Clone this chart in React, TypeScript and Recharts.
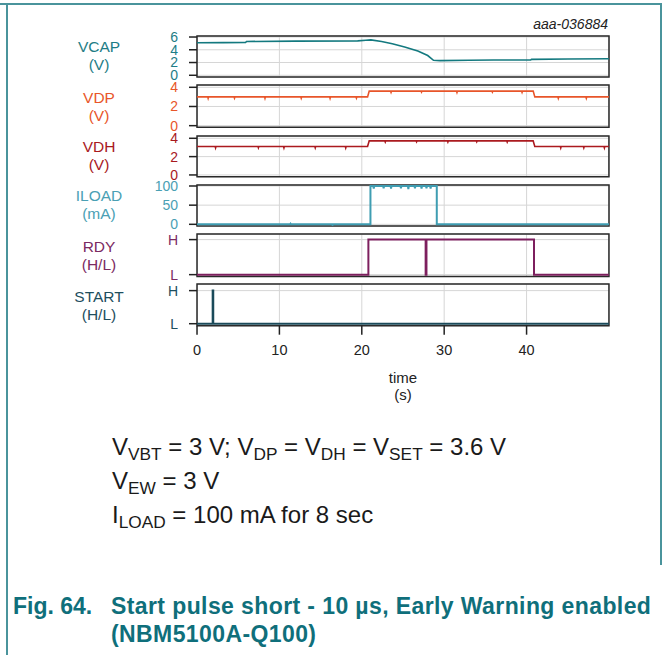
import React from 'react';
import { LineChart, Line, XAxis, YAxis, CartesianGrid, ReferenceArea } from 'recharts';

const FONT = '"Liberation Sans", Arial, Helvetica, sans-serif';

// time axis (s)
const timeDomain: [number, number] = [0, 50];
const timeTicks = [0, 10, 20, 30, 40];

// VCAP (V)
const vcapPoints: [number, number][] = [
  [0, 5.1], [3.2, 5.12], [5.9, 5.15], [6.0, 5.3], [12, 5.35], [19.5, 5.4], [20.5, 5.5],
  [21.1, 5.55], [22.4, 5.3], [23.7, 4.95], [25.2, 4.45], [26.8, 3.8], [28.0, 3.1],
  [28.7, 2.35], [29.5, 2.3], [33, 2.35], [36, 2.4], [40.5, 2.4], [40.6, 2.5], [45, 2.55], [50, 2.6],
];
const vcapTicks = [0, 2, 4, 6];

// VDP (V)
const vdpPoints: [number, number][] = [
  [0, 3.0], [1.3, 3.0], [1.35, 2.85], [1.4, 3.0], [4.5, 3.0], [4.55, 2.88], [4.6, 3.0],
  [8.2, 3.0], [8.25, 2.85], [8.3, 3.0], [12.6, 3.0], [12.65, 2.87], [12.7, 3.0],
  [16.1, 3.0], [16.15, 2.85], [16.2, 3.0], [19.3, 3.0], [19.35, 2.88], [19.4, 3.0],
  [20.7, 3.0], [20.9, 3.6], [23.5, 3.6], [23.55, 3.48], [23.6, 3.6], [27.2, 3.6],
  [27.25, 3.5], [27.3, 3.6], [31.5, 3.6], [31.55, 3.47], [31.6, 3.6], [35.8, 3.6],
  [35.85, 3.5], [35.9, 3.6], [39.4, 3.6], [39.45, 3.48], [39.5, 3.6], [40.8, 3.6],
  [41.0, 3.0], [43.8, 3.0], [43.85, 2.86], [43.9, 3.0], [47.2, 3.0], [47.25, 2.86],
  [47.3, 3.0], [50, 3.0],
];
const vdpTicks = [0, 2, 4];

// VDH (V)
const vdhPoints: [number, number][] = [
  [0, 3.1], [2.2, 3.1], [2.25, 2.95], [2.3, 3.1], [7.4, 3.1], [7.45, 2.97], [7.5, 3.1],
  [10.5, 3.1], [10.55, 2.95], [10.6, 3.1], [14.3, 3.1], [14.35, 2.96], [14.4, 3.1],
  [18.0, 3.1], [18.05, 2.95], [18.1, 3.1], [20.7, 3.1], [20.9, 3.72], [22.8, 3.72],
  [22.85, 3.6], [22.9, 3.72], [26.6, 3.72], [26.65, 3.62], [26.7, 3.72], [30.4, 3.72],
  [30.45, 3.6], [30.5, 3.72], [33.9, 3.72], [33.95, 3.62], [34.0, 3.72], [37.6, 3.72],
  [37.65, 3.6], [37.7, 3.72], [40.8, 3.72], [41.0, 3.1], [44.1, 3.1], [44.15, 2.95],
  [44.2, 3.1], [46.9, 3.1], [46.95, 2.96], [47.0, 3.1], [49.4, 3.1], [49.45, 2.95],
  [49.5, 3.1], [50, 3.1],
];
const vdhTicks = [0, 2, 4];

// ILOAD (mA)
const iloadPoints: [number, number][] = [
  [0, 0], [11.3, 0], [11.35, 1.5], [11.4, 0], [16.4, 0], [16.45, -2], [16.5, 0],
  [21.05, 0], [21.05, 100], [21.4, 100], [21.45, 93], [21.5, 100], [22.6, 100],
  [22.65, 94], [22.7, 100], [23.5, 100], [23.55, 93], [23.6, 100], [24.7, 100],
  [24.75, 94], [24.8, 100], [25.6, 100], [25.65, 92], [25.7, 100], [26.4, 100],
  [26.45, 94], [26.5, 100], [27.2, 100], [27.25, 93], [27.3, 100], [27.8, 100],
  [27.85, 94], [27.9, 100], [28.3, 100], [28.35, 93], [28.4, 100], [29.1, 100],
  [29.1, 0], [50, 0],
];
const iloadTicks = [0, 50, 100];

// RDY (H/L) 0 = L, 1 = H
const rdyPoints: [number, number][] = [
  [0, 0], [20.8, 0], [20.8, 1], [27.75, 1], [27.75, 0], [27.85, 0], [27.85, 1],
  [40.9, 1], [40.9, 0], [50, 0],
];
// START (H/L)
const startPoints: [number, number][] = [
  [0, 0], [1.9, 0], [1.9, 1], [1.97, 1], [1.97, 0], [50, 0],
];
const logicTicks = [0, 1];
const logicLabels = ['L', 'H'];

const toRows = (pts: [number, number][]) => pts.map(([t, v]) => ({ t, v }));

const PLOT_LEFT = 197;
const PLOT_RIGHT = 609;
const Y_W = 60;
const PAD = 6;
const X_H = 34;
const W = 667;

type PanelProps = {
  top: number;
  height: number;
  points: [number, number][];
  domain: [number, number];
  ticks: number[];
  fmt?: (v: number) => string;
  color: string;
  tickColor: string;
  width?: number;
  showX?: boolean;
};

function Panel({ top, height, points, domain, ticks, fmt, color, tickColor, width = 1.6, showX }: PanelProps) {
  const h = PAD + height + (showX ? X_H : PAD);
  return (
    <LineChart
      width={W}
      height={h}
      data={toRows(points)}
      margin={{ top: PAD, bottom: showX ? 0 : PAD, left: PLOT_LEFT - Y_W, right: W - PLOT_RIGHT }}
      style={{ position: 'absolute', left: 0, top: top - PAD, fontFamily: FONT }}
    >
      <CartesianGrid stroke="#d6d6d6" strokeWidth={1} />
      <XAxis
        dataKey="t"
        type="number"
        domain={timeDomain}
        ticks={timeTicks}
        hide={!showX}
        height={X_H}
        axisLine={false}
        tickSize={9}
        tickMargin={10}
        tickLine={{ stroke: '#222', strokeWidth: 1.5 }}
        tick={{ fill: '#222', fontSize: 14.5 }}
        interval={0}
      />
      <YAxis
        type="number"
        domain={domain}
        ticks={ticks}
        width={Y_W}
        interval={0}
        axisLine={false}
        tickSize={8}
        tickMargin={11}
        tickLine={{ stroke: '#222', strokeWidth: 1.5 }}
        tick={{ fill: tickColor, fontSize: 14 }}
        tickFormatter={fmt}
        allowDataOverflow
      />
      <ReferenceArea
        x1={timeDomain[0]}
        x2={timeDomain[1]}
        y1={domain[0]}
        y2={domain[1]}
        fill="none"
        stroke="#2a2a2a"
        strokeWidth={1.5}
        fillOpacity={0}
      />
      <Line
        dataKey="v"
        type="linear"
        stroke={color}
        strokeWidth={width}
        dot={false}
        isAnimationActive={false}
      />
    </LineChart>
  );
}

const textTop = (capCenter: number, fs: number) => capCenter - 0.4885 * fs;

function SideLabel({ center, lines, color }: { center: number; lines: [string, string]; color: string }) {
  const fs = 15.5;
  return (
    <>
      {lines.map((s, i) => (
        <div
          key={i}
          style={{
            position: 'absolute', left: 49, width: 100, textAlign: 'center',
            top: textTop(center + (i === 0 ? -9 : 9), fs), fontSize: fs, lineHeight: `${fs}px`,
            color, fontFamily: FONT, whiteSpace: 'nowrap',
          }}
        >
          {s}
        </div>
      ))}
    </>
  );
}

const Sub = ({ children }: { children: React.ReactNode }) => (
  <span style={{ fontSize: '0.72em', position: 'relative', top: '0.3em' }}>{children}</span>
);

const logicFmt = (v: number) => logicLabels[v] ?? '';

export default function App() {
  const line = '#4a949c';
  const capFs = 24;
  const figFs = 23;
  const figColor = '#0f6f7b';
  return (
    <div style={{ position: 'absolute', left: 0, top: 0, width: W, height: 655, overflow: 'hidden', background: '#fff', fontFamily: FONT }}>
      <div style={{ position: 'absolute', left: 0, top: 3, width: 661, height: 1.5, background: line }} />
      <div style={{ position: 'absolute', left: 6, top: 3, width: 2, height: 652, background: line }} />
      <div style={{ position: 'absolute', left: 659.5, top: 3, width: 2, height: 562, background: line }} />

      <div style={{ position: 'absolute', right: W - 608, top: textTop(24, 14), fontSize: 14, lineHeight: '14px', fontStyle: 'italic', color: '#222' }}>
        aaa-036884
      </div>

      <Panel top={35.7} height={41} points={vcapPoints} domain={[-0.27, 6.16]} ticks={vcapTicks} color="#13797f" tickColor="#1e7d86" />
      <Panel top={85} height={42.3} points={vdpPoints} domain={[-0.17, 4.24]} ticks={vdpTicks} color="#e8552a" tickColor="#e8562a" />
      <Panel top={136} height={40.7} points={vdhPoints} domain={[-0.19, 4.25]} ticks={vdhTicks} color="#ab1a1f" tickColor="#a8191e" />
      <Panel top={185} height={41} points={iloadPoints} domain={[-4.4, 102.6]} ticks={iloadTicks} color="#3f9db2" tickColor="#4aa0b4" width={2} />
      <Panel top={234.3} height={42.4} points={rdyPoints} domain={[-0.05, 1.16]} ticks={logicTicks} fmt={logicFmt} color="#7d1f5e" tickColor="#7b2a62" width={2} />
      <Panel top={284.3} height={41.7} points={startPoints} domain={[-0.06, 1.2]} ticks={logicTicks} fmt={logicFmt} color="#1a4a5a" tickColor="#1e4e5e" width={2} showX />

      <SideLabel center={56} lines={['VCAP', '(V)']} color="#1e7d86" />
      <SideLabel center={107} lines={['VDP', '(V)']} color="#e8562a" />
      <SideLabel center={155.5} lines={['VDH', '(V)']} color="#a8191e" />
      <SideLabel center={205} lines={['ILOAD', '(mA)']} color="#4aa0b4" />
      <SideLabel center={256} lines={['RDY', '(H/L)']} color="#7b2a62" />
      <SideLabel center={305.5} lines={['START', '(H/L)']} color="#1e4e5e" />

      <div style={{ position: 'absolute', left: 353, width: 100, textAlign: 'center', top: textTop(377, 15), fontSize: 15, lineHeight: '15px', color: '#222' }}>time</div>
      <div style={{ position: 'absolute', left: 353, width: 100, textAlign: 'center', top: textTop(394, 15), fontSize: 15, lineHeight: '15px', color: '#222' }}>(s)</div>

      <div style={{ position: 'absolute', left: 112, top: textTop(447, capFs), fontSize: capFs, lineHeight: `${capFs}px`, color: '#1a1a1a', whiteSpace: 'nowrap' }}>
        V<Sub>VBT</Sub> = 3 V; V<Sub>DP</Sub> = V<Sub>DH</Sub> = V<Sub>SET</Sub> = 3.6 V
      </div>
      <div style={{ position: 'absolute', left: 112, top: textTop(481, capFs), fontSize: capFs, lineHeight: `${capFs}px`, color: '#1a1a1a', whiteSpace: 'nowrap' }}>
        V<Sub>EW</Sub> = 3 V
      </div>
      <div style={{ position: 'absolute', left: 112, top: textTop(515, capFs), fontSize: capFs, lineHeight: `${capFs}px`, color: '#1a1a1a', whiteSpace: 'nowrap' }}>
        I<Sub>LOAD</Sub> = 100 mA for 8 sec
      </div>

      <div style={{ position: 'absolute', left: 13, top: textTop(606, figFs), fontSize: figFs, lineHeight: `${figFs}px`, fontWeight: 'bold', color: figColor, whiteSpace: 'nowrap' }}>
        Fig. 64.
      </div>
      <div style={{ position: 'absolute', left: 111, top: textTop(606, figFs), fontSize: figFs, lineHeight: `${figFs}px`, fontWeight: 'bold', color: figColor, whiteSpace: 'nowrap', letterSpacing: 0.4 }}>
        Start pulse short - 10 µs, Early Warning enabled
      </div>
      <div style={{ position: 'absolute', left: 111, top: textTop(634, figFs), fontSize: figFs, lineHeight: `${figFs}px`, fontWeight: 'bold', color: figColor, whiteSpace: 'nowrap', letterSpacing: 0.4 }}>
        (NBM5100A-Q100)
      </div>
    </div>
  );
}
